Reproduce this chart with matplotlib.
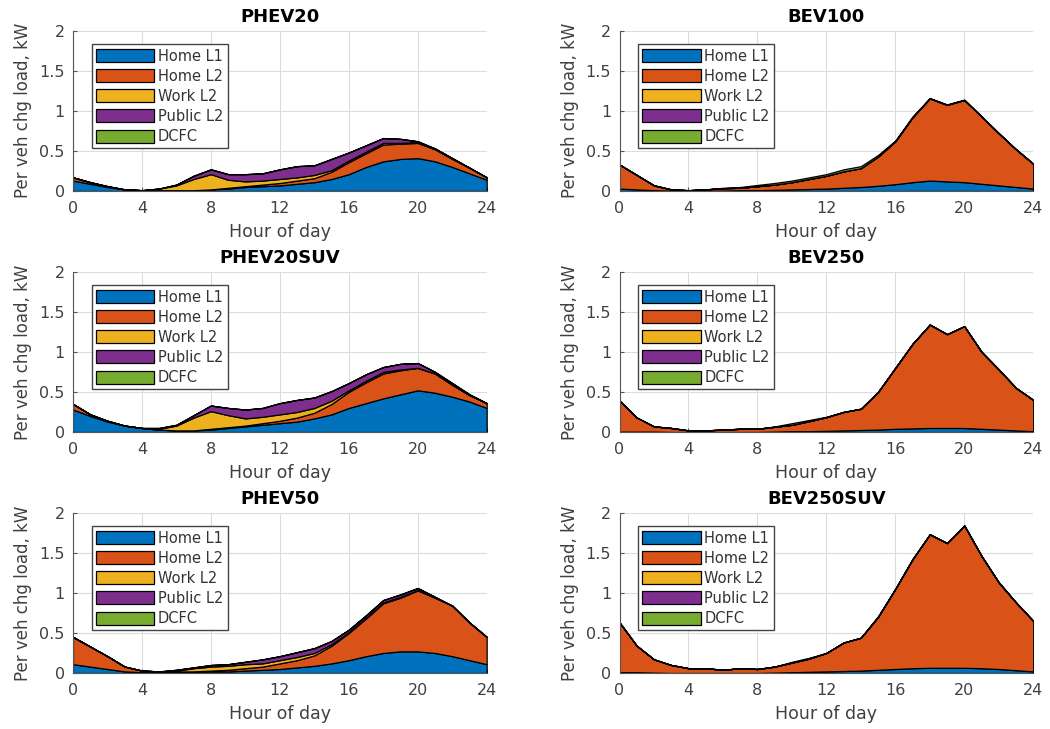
import matplotlib.pyplot as plt
import numpy as np

# --- data: per-vehicle charging load (kW), hourly, stacked by charger type
hours = list(range(25))
series_names = ['Home L1', 'Home L2', 'Work L2', 'Public L2', 'DCFC']
colors = ['#0072BD', '#D95319', '#EDB120', '#7E2F8E', '#77AC30']

phev20_home_l1 = [0.13, 0.09, 0.05, 0.02, 0.01, 0.01, 0.01, 0.01, 0.02, 0.03, 0.05, 0.06, 0.07, 0.09, 0.11, 0.15, 0.21, 0.30, 0.37, 0.40, 0.41, 0.37, 0.30, 0.22, 0.14]
phev20_home_l2 = [0.04, 0.02, 0.01, 0, 0, 0, 0, 0, 0, 0.01, 0.01, 0.02, 0.03, 0.04, 0.05, 0.09, 0.15, 0.17, 0.21, 0.19, 0.19, 0.15, 0.10, 0.07, 0.03]
phev20_work_l2 = [0, 0, 0, 0, 0, 0.02, 0.06, 0.14, 0.19, 0.10, 0.06, 0.05, 0.05, 0.04, 0.04, 0.02, 0.02, 0.02, 0.02, 0.01, 0.01, 0.01, 0.01, 0, 0]
phev20_public_l2 = [0, 0, 0, 0, 0, 0, 0.01, 0.04, 0.06, 0.07, 0.09, 0.09, 0.12, 0.14, 0.12, 0.14, 0.10, 0.08, 0.06, 0.05, 0.01, 0, 0, 0, 0]
phev20_dcfc = [0] * 25

bev100_home_l1 = [0.03, 0.02, 0.01, 0.005, 0.005, 0.005, 0.005, 0.01, 0.01, 0.015, 0.02, 0.025, 0.03, 0.04, 0.05, 0.065, 0.085, 0.11, 0.13, 0.12, 0.11, 0.09, 0.07, 0.05, 0.03]
bev100_home_l2 = [0.30, 0.18, 0.06, 0.015, 0.005, 0.015, 0.03, 0.03, 0.05, 0.065, 0.09, 0.125, 0.16, 0.205, 0.235, 0.365, 0.535, 0.81, 1.025, 0.955, 1.025, 0.84, 0.65, 0.47, 0.31]
bev100_work_l2 = [0] * 25
bev100_public_l2 = [0] * 25
bev100_dcfc = [0, 0, 0, 0, 0, 0, 0.005, 0.01, 0.015, 0.02, 0.02, 0.02, 0.02, 0.025, 0.025, 0.02, 0.01, 0.01, 0.005, 0.005, 0.005, 0, 0, 0, 0]

phev20suv_home_l1 = [0.28, 0.20, 0.13, 0.08, 0.05, 0.03, 0.02, 0.02, 0.03, 0.05, 0.07, 0.09, 0.11, 0.13, 0.17, 0.22, 0.30, 0.36, 0.42, 0.47, 0.52, 0.49, 0.44, 0.38, 0.30]
phev20suv_home_l2 = [0.07, 0.02, 0.01, 0, 0, 0, 0, 0, 0.01, 0.01, 0.01, 0.02, 0.03, 0.05, 0.07, 0.13, 0.20, 0.26, 0.31, 0.30, 0.28, 0.24, 0.15, 0.08, 0.06]
phev20suv_work_l2 = [0, 0, 0, 0, 0, 0.01, 0.06, 0.16, 0.22, 0.15, 0.09, 0.08, 0.08, 0.07, 0.06, 0.04, 0.02, 0.02, 0.02, 0.01, 0, 0, 0, 0, 0]
phev20suv_public_l2 = [0, 0, 0, 0, 0, 0.01, 0.01, 0.03, 0.07, 0.09, 0.11, 0.11, 0.14, 0.15, 0.13, 0.12, 0.09, 0.08, 0.06, 0.07, 0.06, 0.02, 0.02, 0.01, 0]
phev20suv_dcfc = [0] * 25

bev250_home_l1 = [0.005, 0.005, 0.005, 0, 0, 0, 0, 0, 0, 0.005, 0.01, 0.01, 0.015, 0.02, 0.025, 0.03, 0.04, 0.045, 0.05, 0.05, 0.05, 0.04, 0.03, 0.02, 0.01]
bev250_home_l2 = [0.385, 0.175, 0.065, 0.05, 0.02, 0.02, 0.03, 0.04, 0.04, 0.06, 0.08, 0.125, 0.17, 0.23, 0.265, 0.47, 0.76, 1.055, 1.29, 1.17, 1.27, 0.96, 0.75, 0.53, 0.39]
bev250_work_l2 = [0] * 25
bev250_public_l2 = [0] * 25
bev250_dcfc = [0, 0, 0, 0, 0, 0, 0, 0, 0, 0.005, 0.02, 0.015, 0.005, 0, 0, 0, 0, 0, 0, 0, 0, 0, 0, 0, 0]

phev50_home_l1 = [0.11, 0.08, 0.05, 0.02, 0.01, 0.01, 0.01, 0.01, 0.02, 0.02, 0.03, 0.04, 0.05, 0.07, 0.09, 0.12, 0.16, 0.21, 0.25, 0.27, 0.27, 0.25, 0.21, 0.16, 0.11]
phev50_home_l2 = [0.34, 0.25, 0.16, 0.06, 0.02, 0.01, 0.01, 0.01, 0.01, 0.02, 0.03, 0.04, 0.07, 0.09, 0.13, 0.22, 0.34, 0.47, 0.62, 0.67, 0.76, 0.69, 0.63, 0.47, 0.34]
phev50_work_l2 = [0, 0, 0, 0, 0, 0, 0.01, 0.04, 0.05, 0.05, 0.05, 0.04, 0.04, 0.04, 0.03, 0.02, 0.01, 0.01, 0.01, 0.01, 0.005, 0, 0, 0, 0]
phev50_public_l2 = [0, 0, 0, 0, 0, 0, 0.01, 0.01, 0.02, 0.02, 0.03, 0.05, 0.05, 0.06, 0.06, 0.04, 0.03, 0.03, 0.03, 0.03, 0.025, 0.01, 0, 0, 0]
phev50_dcfc = [0] * 25

bev250suv_home_l1 = [0.01, 0.01, 0.005, 0, 0, 0, 0, 0, 0, 0.005, 0.01, 0.015, 0.02, 0.025, 0.03, 0.04, 0.05, 0.06, 0.065, 0.065, 0.065, 0.06, 0.05, 0.035, 0.02]
bev250suv_home_l2 = [0.62, 0.33, 0.165, 0.10, 0.06, 0.06, 0.04, 0.06, 0.05, 0.075, 0.12, 0.165, 0.23, 0.355, 0.41, 0.66, 1.0, 1.36, 1.665, 1.555, 1.775, 1.40, 1.08, 0.845, 0.63]
bev250suv_work_l2 = [0] * 25
bev250suv_public_l2 = [0] * 25
bev250suv_dcfc = [0, 0, 0, 0, 0, 0, 0, 0, 0, 0, 0.01, 0.01, 0, 0, 0, 0.01, 0, 0, 0, 0, 0, 0, 0, 0, 0]

panels = [
    ('PHEV20', [phev20_home_l1, phev20_home_l2, phev20_work_l2, phev20_public_l2, phev20_dcfc]),
    ('BEV100', [bev100_home_l1, bev100_home_l2, bev100_work_l2, bev100_public_l2, bev100_dcfc]),
    ('PHEV20SUV', [phev20suv_home_l1, phev20suv_home_l2, phev20suv_work_l2, phev20suv_public_l2, phev20suv_dcfc]),
    ('BEV250', [bev250_home_l1, bev250_home_l2, bev250_work_l2, bev250_public_l2, bev250_dcfc]),
    ('PHEV50', [phev50_home_l1, phev50_home_l2, phev50_work_l2, phev50_public_l2, phev50_dcfc]),
    ('BEV250SUV', [bev250suv_home_l1, bev250suv_home_l2, bev250suv_work_l2, bev250suv_public_l2, bev250suv_dcfc]),
]

plt.rcParams['font.family'] = 'DejaVu Sans'
fig = plt.figure(figsize=(10.5, 7.29), dpi=100)

# posicoes dos eixos (estilo MATLAB)
lefts = [0.0695, 0.590]
bottoms = [0.738, 0.4074, 0.0768]
w, h = 0.394, 0.22

for i, (titulo, dados) in enumerate(panels):
    ax = fig.add_axes([lefts[i % 2], bottoms[i // 2], w, h])
    ax.stackplot(hours, *dados, colors=colors, labels=series_names,
                 edgecolor='black', linewidth=0.9)
    ax.set_xlim(0, 24)
    ax.set_ylim(0, 2)
    ax.set_xticks(range(0, 25, 4))
    ax.set_yticks([0, 0.5, 1, 1.5, 2])
    ax.set_yticklabels(['0', '0.5', '1', '1.5', '2'])
    ax.grid(True, color='#dcdcdc', linewidth=0.8)
    ax.set_axisbelow(True)
    for s in ['top', 'right']:
        ax.spines[s].set_visible(False)
    for s in ['left', 'bottom']:
        ax.spines[s].set_color('#555555')
        ax.spines[s].set_linewidth(0.8)
    ax.tick_params(direction='in', length=3, colors='#555555', labelcolor='#404040',
                   labelsize=11.5)
    ax.tick_params(axis='x', pad=7)
    ax.tick_params(axis='y', pad=6)
    ax.set_title(titulo, fontsize=13, fontweight='bold', pad=6)
    ax.set_xlabel('Hour of day', fontsize=12.5, color='#404040', labelpad=5)
    ax.set_ylabel('Per veh chg load, kW', fontsize=12, color='#404040', labelpad=5)
    leg = ax.legend(loc='upper left', bbox_to_anchor=(0.045, 0.915), fontsize=10.5,
                    handlelength=4.0, handleheight=1.0, labelspacing=0.35,
                    handletextpad=0.25, borderpad=0.3, borderaxespad=0,
                    fancybox=False, framealpha=1, edgecolor='#444444')
    leg.get_frame().set_linewidth(1.0)
    for t in leg.get_texts():
        t.set_color('#333333')

plt.savefig('out.png', dpi=100)
